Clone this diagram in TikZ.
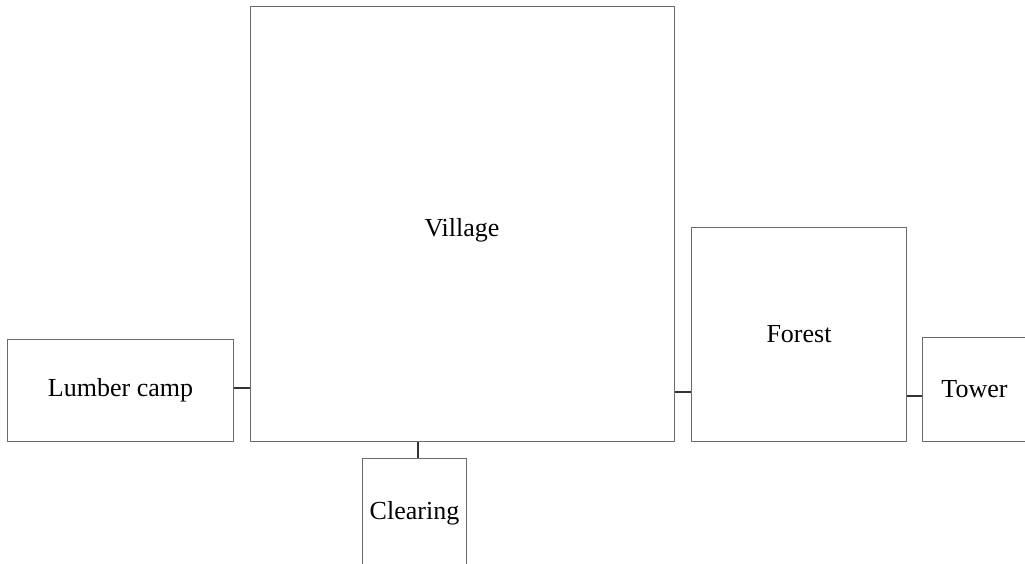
\documentclass[tikz,border=0pt]{standalone}
\usepackage{fontspec}
\setmainfont{Liberation Serif}
\begin{document}
\begin{tikzpicture}[x=1pt,y=-1pt,
  room/.style={draw=black!58, line width=1pt, fill=white, font=\fontsize{26}{31}\selectfont, inner sep=0pt, anchor=north west},
  link/.style={draw=black!80, line width=1.2pt}]
\clip (0,0) rectangle (1025,563);
\fill[white] (0,0) rectangle (1025,563);
\node[room, minimum width=226pt, minimum height=102pt] (lumber) at (7,339) {Lumber camp};
\node[room, minimum width=424pt, minimum height=435pt] (village) at (250,6) {};
\node[font=\fontsize{26}{31}\selectfont] (villagetext) at (462,230) {Village};
\node[room, minimum width=104pt, minimum height=110pt] (clearing) at (362,458) {Clearing};
\node[room, minimum width=215pt, minimum height=214pt] (forest) at (691,227) {Forest};
\node[room, minimum width=104pt, minimum height=104pt] (tower) at (922,337) {Tower};
\draw[link] (lumber.east |- 0,388) -- (village.west |- 0,388);
\draw[link] (village.south -| 418,0) -- (clearing.north -| 418,0);
\draw[link] (village.east |- 0,392) -- (forest.west |- 0,392);
\draw[link] (forest.east |- 0,396) -- (tower.west |- 0,396);
\end{tikzpicture}
\end{document}
